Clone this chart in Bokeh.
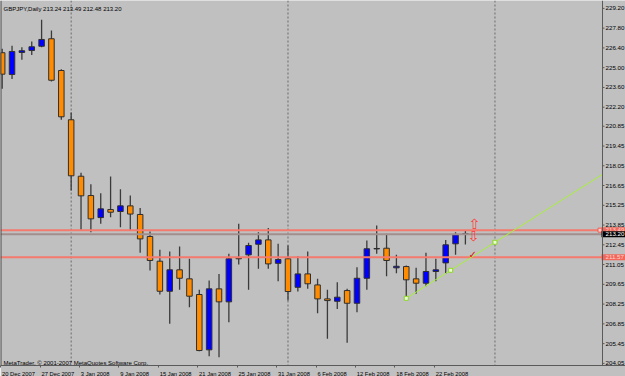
from bokeh.plotting import figure
from bokeh.models import Range1d, LinearAxis, FixedTicker, Span, Label, ColumnDataSource
from bokeh.embed import file_html
from bokeh.resources import INLINE
from bokeh.core.properties import value

# ---------------- data ----------------
title_text = "GBPJPY,Daily  213.24 213.49 212.48 213.20"
footer_text = "MetaTrader, \u00a9 2001-2007 MetaQuotes Software Corp."

opens = [226.06, 224.52, 226.08, 226.22, 226.52, 227.05, 224.80, 221.31, 217.31, 215.94,
         214.38, 214.95, 214.81, 215.21, 214.60, 213.04, 211.29, 209.16, 210.68, 210.04,
         208.93, 205.01, 209.33, 208.41, 211.50, 211.74, 212.49, 212.80, 211.14, 211.46,
         209.44, 210.39, 209.61, 208.62, 208.45, 209.21, 208.31, 210.08, 212.16, 212.21,
         210.82, 210.91, 210.04, 209.73, 210.56, 211.17, 212.52, 213.24]
highs = [226.34, 226.55, 226.45, 226.86, 228.40, 227.64, 224.89, 221.83, 217.55, 216.74,
         216.11, 217.29, 216.39, 215.94, 215.06, 213.39, 212.10, 211.97, 212.33, 211.46,
         209.26, 209.92, 210.39, 211.81, 213.94, 212.59, 213.34, 213.65, 212.52, 212.40,
         211.64, 211.97, 210.04, 209.26, 209.80, 209.33, 210.86, 212.75, 213.82, 213.23,
         211.74, 210.98, 210.82, 211.88, 211.46, 212.80, 213.34, 213.49]
lows = [223.51, 224.19, 225.56, 225.90, 226.45, 224.02, 221.31, 216.30, 213.51, 213.34,
        213.94, 214.41, 213.70, 213.46, 211.88, 210.63, 208.93, 206.85, 209.26, 208.03,
        204.91, 204.55, 204.48, 206.96, 211.05, 209.26, 210.75, 210.75, 209.87, 208.50,
        209.14, 209.33, 207.60, 205.79, 207.91, 205.51, 207.67, 209.26, 211.81, 210.22,
        210.44, 208.66, 208.98, 209.51, 209.87, 210.39, 211.74, 212.48]
closes = [224.54, 226.15, 226.20, 226.48, 227.00, 224.11, 221.52, 217.34, 215.92, 214.29,
          215.00, 214.76, 215.21, 214.63, 212.87, 211.34, 209.16, 210.68, 210.08, 208.81,
          204.96, 209.33, 208.41, 211.46, 211.46, 212.40, 212.80, 211.10, 211.41, 209.14,
          210.39, 209.69, 208.62, 208.50, 208.74, 208.31, 210.08, 212.17, 212.19, 211.34,
          210.93, 209.97, 209.73, 210.56, 210.68, 212.45, 213.16, 213.20]

date_tick_bars = [0, 4, 8, 12, 16, 20, 24, 28, 32, 36, 40, 44]
date_tick_labels = ["20 Dec 2007", "27 Dec 2007", "3 Jan 2008", "9 Jan 2008",
                    "15 Jan 2008", "21 Jan 2008", "25 Jan 2008", "31 Jan 2008",
                    "6 Feb 2008", "12 Feb 2008", "18 Feb 2008", "22 Feb 2008"]
price_ticks = [229.20, 227.80, 226.40, 225.00, 223.60, 222.20, 220.85, 219.45, 218.05,
               216.65, 215.25, 213.85, 212.45, 211.05, 209.65, 208.25, 206.85, 205.45, 204.05]
price_tick_labels = ["229.20", "227.80", "226.40", "225.00", "223.60", "222.20", "220.85",
                     "219.45", "218.05", "216.65", "215.25", "213.85", "212.45", "211.05",
                     "209.65", "208.25", "206.85", "205.45", "204.05"]

month_sep_bars = [7, 29, 50]
red_levels = [213.49, 211.57]
red_level_labels = ["213.49", "211.57"]
bid_price = 213.20
bid_label = "213.20"
trend_bars = [41, 50]
trend_prices = [208.66, 212.63]
arrow_bars = [47.9, 47.8]
arrow_prices = [213.94, 213.06]
arrow_symbols = ["\u21e7", "\u21e9"]
check_bars = [47.75]
check_prices = [211.74]
check_symbols = ["\u2713"]

# ---------------- styling / layout ----------------
FRAME_W, FRAME_H = 625, 365
X0, X1 = -0.17, 60.91              # X1 = price-scale position (right edge of the chart)
Y0, Y1 = 203.90, 229.76
PX_PER_BAR = 602 / (X1 - X0)
PX_PER_PRICE = FRAME_H / (Y1 - Y0)
X_END = X0 + FRAME_W / PX_PER_BAR  # extra room for the price scale
FONT = "Liberation Sans"
BG = "#C0C0C0"
BULL = "#0000FF"
BEAR = "#FF8C00"
AXIS_C = "#5A5A5A"

p = figure(frame_width=FRAME_W, frame_height=FRAME_H,
           x_range=Range1d(X0, X_END), y_range=Range1d(Y0, Y1),
           output_backend="svg", toolbar_location=None,
           x_axis_location=None, y_axis_location=None,
           min_border_left=0, min_border_top=0, min_border_right=0, min_border_bottom=0,
           background_fill_color=BG, border_fill_color=BG)
p.outline_line_color = None
p.grid.grid_line_color = None

# month separators
for b in month_sep_bars:
    p.add_layout(Span(location=b, dimension="height", line_color="#6A6A6A",
                      line_dash="2 2", line_width=1, level="underlay"))

# candles
bar_idx = list(range(len(opens)))
src = ColumnDataSource(dict(
    x=bar_idx, low=lows, high=highs,
    top=[max(o, c) for o, c in zip(opens, closes)],
    bottom=[min(o, c) for o, c in zip(opens, closes)],
    color=[BULL if c > o else BEAR for o, c in zip(opens, closes)],
))
p.segment(x0="x", y0="low", x1="x", y1="high", source=src,
          line_color="#3A3A3A", line_width=1.3)
p.vbar(x="x", width=0.56, top="top", bottom="bottom", fill_color="color",
       line_color="#2E2E2E", line_width=1, source=src)

# horizontal lines (up to the price scale)
p.segment(x0=[X0], x1=[X1], y0=[bid_price], y1=[bid_price], line_color="#A38E8E", line_width=2)
p.segment(x0=[X0] * len(red_levels), x1=[X1] * len(red_levels), y0=red_levels, y1=red_levels,
          line_color="#F47A6E", line_width=2)
p.scatter([X1 - 2.5 / PX_PER_BAR], [red_levels[0]], marker="square", size=4,
          fill_color="#FFD2CC", line_color="#F05A50", line_width=1)

# trend line (ray to the price scale)
slope = (trend_prices[1] - trend_prices[0]) / (trend_bars[1] - trend_bars[0])
ray_x = [trend_bars[0], trend_bars[1], X1]
ray_y = [trend_prices[0], trend_prices[1], trend_prices[1] + slope * (X1 - trend_bars[1])]
p.line(ray_x, ray_y, line_color="#A8F03A", line_width=1)
mid_x = (trend_bars[0] + trend_bars[1]) / 2
mid_y = (trend_prices[0] + trend_prices[1]) / 2
p.scatter([trend_bars[0], mid_x, trend_bars[1]], [trend_prices[0], mid_y, trend_prices[1]],
          marker="square", size=4, fill_color="#E8FFD0", line_color="#8FD62A", line_width=1)

# arrows
p.text(x=arrow_bars, y=arrow_prices, text=arrow_symbols, text_color="#FF3A3A",
       text_font=value("DejaVu Sans"), text_font_size="14px",
       text_align="center", text_baseline="middle")
p.text(x=check_bars, y=check_prices, text=check_symbols, text_color="#D81010",
       text_font=value("DejaVu Sans"), text_font_size="10px", text_font_style="bold",
       text_align="center", text_baseline="middle")

# ---- price scale on the right ----
p.add_layout(Span(location=X1, dimension="height", line_color=AXIS_C, line_width=1))
p.segment(x0=[X1] * len(price_ticks), x1=[X1 + 2 / PX_PER_BAR] * len(price_ticks),
          y0=price_ticks, y1=price_ticks, line_color=AXIS_C, line_width=1)
p.text(x=[X1] * len(price_ticks), y=price_ticks, text=price_tick_labels, x_offset=3,
       text_color="#000000", text_font=value(FONT), text_font_size="6.2px",
       text_align="left", text_baseline="middle")

# price tags on the scale
TAG_H = 3 / PX_PER_PRICE
tag_prices = [red_levels[0], bid_price, red_levels[1]]
tag_texts = [red_level_labels[0], bid_label, red_level_labels[1]]
tag_fill = ["#F2675A", "#000000", "#F2675A"]
tag_text_c = ["#FFD6CF", "#FFFFFF", "#FFD6CF"]
for pr, tx, fc, tc in zip(tag_prices, tag_texts, tag_fill, tag_text_c):
    p.quad(left=[X1 - 1 / PX_PER_BAR], right=[X_END], top=[pr + TAG_H], bottom=[pr - TAG_H],
           fill_color=fc, line_color=None)
    p.text(x=[X1], y=[pr], text=[tx], x_offset=3, text_color=tc,
           text_font=value(FONT), text_font_size="6.2px",
           text_align="left", text_baseline="middle")

# bottom date axis (labels left-aligned at their tick, MetaTrader style)
W = {"0": .556, "1": .556, "2": .556, "3": .556, "4": .556, "5": .556, "6": .556,
     "7": .556, "8": .556, "9": .556, " ": .278, "D": .722, "J": .5, "F": .611,
     "e": .556, "c": .5, "a": .556, "n": .556, "b": .556}
DATE_FS = 5.8
def est_w(s):
    return sum(W.get(ch, .556) for ch in s) * DATE_FS

minor_pos = [b - 0.15 for b in date_tick_bars]
label_pos = [m + (1.3 + est_w(t) / 2) / PX_PER_BAR for m, t in zip(minor_pos, date_tick_labels)]
xaxis = LinearAxis(ticker=FixedTicker(ticks=label_pos, minor_ticks=minor_pos),
                   major_label_overrides=dict(zip(label_pos, date_tick_labels)))
xaxis.axis_line_color = AXIS_C
xaxis.major_tick_out = 0
xaxis.major_tick_in = 0
xaxis.minor_tick_out = 2
xaxis.minor_tick_in = 0
xaxis.minor_tick_line_color = AXIS_C
xaxis.major_label_standoff = 3
xaxis.major_label_text_font = FONT
xaxis.major_label_text_font_size = f"{DATE_FS}px"
xaxis.major_label_text_color = "#000000"
p.add_layout(xaxis, "below")

# left chart edge
p.add_layout(Span(location=X0, dimension="height", line_color="#4A4A4A", line_width=2))

# texts
p.add_layout(Label(x=X0, y=Y1, x_offset=3, y_offset=-8.5, text=title_text,
                   text_baseline="alphabetic", text_color="#000000",
                   text_font=FONT, text_font_size="6px"))
p.add_layout(Label(x=X0, y=Y0, x_offset=3, y_offset=2.5, text=footer_text,
                   text_baseline="alphabetic", text_color="#000000",
                   text_font=FONT, text_font_size="6px"))

open("out.html", "w").write(file_html(p, INLINE))
